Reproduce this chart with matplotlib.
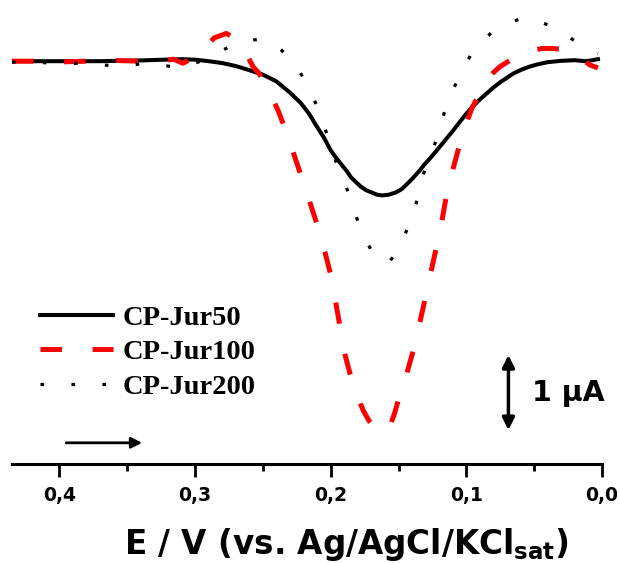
import matplotlib
matplotlib.use("Agg")
import matplotlib.pyplot as plt
from matplotlib.ticker import FixedLocator, FixedFormatter, MultipleLocator

plt.rcParams['lines.scale_dashes'] = False
plt.rcParams['mathtext.fontset'] = 'dejavusans'

# ---------------- data ----------------
E_50 = [0.435, 0.40, 0.37, 0.34, 0.31, 0.30, 0.29, 0.28, 0.27, 0.26, 0.25, 0.24, 0.23,
        0.222, 0.216, 0.211, 0.205, 0.200, 0.196, 0.192, 0.188, 0.185, 0.181, 0.178,
        0.174, 0.170, 0.166, 0.162, 0.157, 0.152, 0.148, 0.145, 0.141, 0.138, 0.134,
        0.131, 0.126, 0.120, 0.115, 0.110, 0.104, 0.100, 0.095, 0.090, 0.085, 0.080,
        0.075, 0.070, 0.065, 0.059, 0.053, 0.047, 0.040, 0.030, 0.020, 0.0125, 0.007,
        0.003]
I_50 = [0.0, 0.0, 0.0, 0.01, 0.027, 0.02, 0.0, -0.025, -0.065, -0.12, -0.18, -0.27, -0.42,
        -0.56, -0.70, -0.85, -1.02, -1.19, -1.29, -1.38, -1.47, -1.55, -1.62, -1.67,
        -1.72, -1.75, -1.78, -1.79, -1.78, -1.75, -1.71, -1.66, -1.59, -1.53, -1.45,
        -1.38, -1.28, -1.15, -1.04, -0.93, -0.79, -0.70, -0.60, -0.51, -0.43, -0.35,
        -0.28, -0.22, -0.16, -0.11, -0.07, -0.04, -0.013, 0.005, 0.013, 0.0, 0.013,
        0.027]

E_100 = [0.435, 0.42, 0.40, 0.38, 0.36, 0.34, 0.325, 0.316, 0.309, 0.303, 0.294, 0.286,
         0.277, 0.270, 0.263, 0.257, 0.253, 0.250, 0.245, 0.239, 0.233, 0.227, 0.222,
         0.217, 0.212, 0.207, 0.200, 0.195, 0.190, 0.185, 0.180, 0.176, 0.172, 0.168,
         0.163, 0.159, 0.156, 0.153, 0.149, 0.144, 0.139, 0.132, 0.125, 0.119, 0.114,
         0.109, 0.104, 0.100, 0.096, 0.090, 0.085, 0.080, 0.075, 0.068, 0.060, 0.052,
         0.044, 0.037, 0.031, 0.025, 0.020, 0.014, 0.009, 0.003]
I_100 = [0.0, 0.0, -0.01, 0.0, 0.01, 0.0, 0.0, 0.027, -0.027, 0.027, 0.15, 0.31,
         0.37, 0.30, 0.12, -0.08, -0.16, -0.25, -0.42, -0.65, -0.93, -1.25, -1.52,
         -1.79, -2.07, -2.35, -2.85, -3.35, -3.88, -4.22, -4.49, -4.66, -4.79, -4.89,
         -4.95, -4.93, -4.85, -4.70, -4.45, -4.17, -3.85, -3.30, -2.72, -2.23, -1.72,
         -1.38, -1.05, -0.83, -0.63, -0.42, -0.25, -0.15, -0.07, 0.01, 0.09, 0.14,
         0.17, 0.17, 0.16, 0.12, 0.08, 0.02, -0.05, -0.09]

E_200 = [0.435, 0.42, 0.402, 0.38, 0.357, 0.334, 0.310, 0.296, 0.288, 0.265, 0.253,
         0.242, 0.226, 0.216, 0.208, 0.196, 0.189, 0.183, 0.176, 0.167, 0.157, 0.149,
         0.142, 0.136, 0.132, 0.125, 0.114, 0.106, 0.096, 0.079, 0.057, 0.034, 0.014,
         0.003]
I_200 = [-0.013, -0.013, -0.027, -0.03, -0.067, -0.027, -0.093, 0.0, 0.08, 0.27, 0.29,
         0.25, -0.04, -0.36, -0.69, -1.35, -1.65, -1.99, -2.32, -2.63, -2.68, -2.49,
         -2.16, -1.84, -1.52, -1.21, -0.55, -0.23, 0.11, 0.43, 0.59, 0.45, 0.19, 0.10]

labels = ["CP-Jur50", "CP-Jur100", "CP-Jur200"]
tick_values = [0.4, 0.3, 0.2, 0.1, 0.0]
tick_labels = ["0,4", "0,3", "0,2", "0,1", "0,0"]
xlabel = r"E / V (vs. Ag/AgCl/KCl$_{\mathbf{sat}}$)"
scale_text = "1 \u03bcA"

# ---------------- figure ----------------
fig = plt.figure(figsize=(6.2, 5.63), dpi=100)
ax = fig.add_axes([12 / 620, 0.1758, 590 / 620, 0.815])

ax.plot(E_50, I_50, color='black', lw=2.9, solid_joinstyle='round', label=labels[0])
ax.plot(E_100, I_100, color='#ff0000', lw=3.6, linestyle=(0, (15.5, 22)), label=labels[1])
ax.plot(E_200, I_200, color='black', lw=2.3, linestyle=(0, (2.6, 19.7)), label=labels[2])

ax.set_xlim(0.435, 0.0)
ax.set_ylim(-5.373, 0.747)

for s in ['top', 'left', 'right']:
    ax.spines[s].set_visible(False)
ax.spines['bottom'].set_linewidth(2.2)
ax.set_yticks([])
ax.xaxis.set_major_locator(FixedLocator(tick_values))
ax.xaxis.set_major_formatter(FixedFormatter(tick_labels))
ax.xaxis.set_minor_locator(MultipleLocator(0.05))
ax.tick_params(axis='x', which='major', direction='out', length=9, width=2, pad=7,
               labelsize=13.5)
ax.tick_params(axis='x', which='minor', direction='out', length=5, width=2)
for t in ax.get_xticklabels():
    t.set_fontweight('bold')
    t.set_family('DejaVu Sans')

ax.set_xlabel(xlabel, fontsize=23.5, fontweight='bold', family='DejaVu Sans')
ax.xaxis.set_label_coords((346 - 12) / 590, -0.135)

# scale bar
ax.annotate('', xy=(0.069, -3.92), xytext=(0.069, -4.92),
            arrowprops=dict(arrowstyle='<|-|>', lw=2.5, color='black',
                            mutation_scale=18, shrinkA=0, shrinkB=0))
ax.text(0.0515, -4.43, scale_text, fontsize=20.5, fontweight='bold',
        family='DejaVu Sans', ha='left', va='center')

# scan direction arrow
ax.annotate('', xy=(0.339, -5.09), xytext=(0.395, -5.09),
            arrowprops=dict(arrowstyle='-|>', lw=2, color='black',
                            mutation_scale=16, shrinkA=0, shrinkB=0))

leg = ax.legend(loc='upper left', bbox_to_anchor=(40 / 620, 1 - 305 / 563),
                bbox_transform=fig.transFigure, frameon=False, borderpad=0,
                borderaxespad=0, handlelength=2.55, handletextpad=0.34,
                labelspacing=0.3,
                prop=dict(family='Liberation Serif', weight='bold', size=20.5))

fig.savefig('out.png', dpi=100)
